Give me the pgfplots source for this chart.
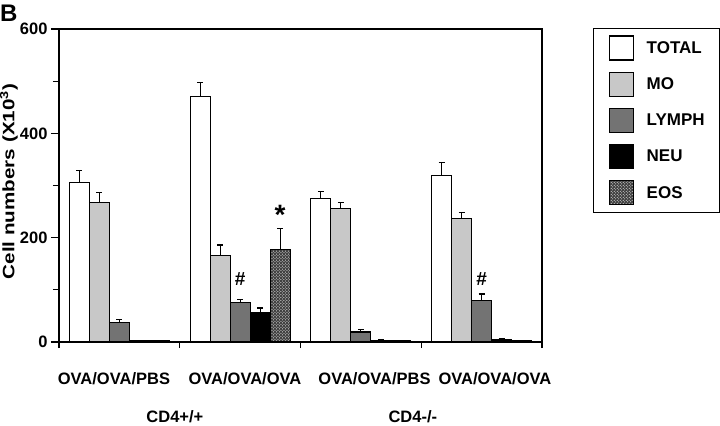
\documentclass[border=0pt]{standalone}
\usepackage{pgfplots}
\pgfplotsset{compat=1.18}
\usepackage{pgfplotstable}
\usetikzlibrary{patterns}
\usepackage{fontspec}
\setmainfont{Liberation Sans}
\definecolor{mogray}{RGB}{200,200,200}
\definecolor{lygray}{RGB}{115,115,115}
\newcommand{\lfont}{\bfseries\fontsize{16.5bp}{19bp}\selectfont}

\pgfplotstableread{
x y e
0 305 23
1 470 27
2 275 13
3 319 25
}\total
\pgfplotstableread{
x y e
0 268 18
1 166 20
2 256 11
3 237 12
}\mo
\pgfplotstableread{
x y e
0 37 6
1 76 6
2 19 5
3 79 13
}\lymph
\pgfplotstableread{
x y e
0 3 0
1 57 8
2 3 2
3 5 1
}\neu
\pgfplotstableread{
x y e
0 2 0
1 178 39
2 2 0
3 3 0
}\eos

\begin{document}
\begin{tikzpicture}
\useasboundingbox (0,0) rectangle (720bp,426bp);
\node[anchor=base west, inner sep=0, font=\bfseries\fontsize{24bp}{28bp}\selectfont] at (0bp,404bp) {B};
\begin{axis}[
  at={(59bp,84bp)}, anchor=south west,
  scale only axis, width=483bp, height=313bp,
  clip=false,
  ybar=0pt, bar width=20bp,
  xmin=-0.5, xmax=3.5, ymin=0, ymax=600,
  axis line style={line width=1.5bp},
  xtick={-0.045,1.04,2.113,3.11},
  xticklabels={OVA/OVA/PBS,OVA/OVA/OVA,OVA/OVA/PBS,OVA/OVA/OVA},
  major x tick style={draw=none},
  minor xtick={-0.5,0.5,1.5,2.5,3.5},
  ytick={0,200,400,600},
  minor ytick={100,300,500},
  tick align=outside,
  tick pos=left,
  major tick length=8bp,
  minor tick length=6bp,
  every tick/.style={line width=1.3bp, black},
  xticklabel style={font=\lfont, yshift=-19bp},
  yticklabel style={font=\lfont},
  /pgf/number format/assume math mode=true,
  ylabel={Cell numbers (X10\textsuperscript{3})},
  every axis y label/.style={at={(axis description cs:0,0.5)}, xshift=-50bp, yshift=4bp, rotate=90, xscale=1.25, anchor=center, font=\lfont},
  legend style={at={(axis description cs:1,1)}, anchor=north west, xshift=51bp, yshift=1bp,
    draw=black, line width=1bp, inner xsep=15bp, inner ysep=7bp, row sep=11bp,
    font=\bfseries\fontsize{17bp}{19bp}\selectfont, column sep=0bp,
    nodes={inner sep=0bp, anchor=west}},
  error bars/y dir=plus, error bars/y explicit,
  error bars/error bar style={line width=1.2bp, black},
  error bars/error mark options={rotate=90, line width=1.2bp, black, mark size=3bp},
  mylegend/.style={legend image code/.code={\draw[##1, line width=1.2bp] (0bp,-12bp) rectangle (24bp,12bp); \path (37bp,0bp);}},
]
\addplot[fill=white, draw=black, line width=1.2bp, mylegend] table[x=x,y=y,y error=e]{\total};
\addplot[fill=mogray, draw=black, line width=1.2bp, mylegend] table[x=x,y=y,y error=e]{\mo};
\addplot[fill=lygray, draw=black, line width=1.2bp, mylegend] table[x=x,y=y,y error=e]{\lymph};
\addplot[fill=black, draw=black, line width=1.2bp, mylegend] table[x=x,y=y,y error=e]{\neu};
\addplot[fill=black!75, postaction={pattern=crosshatch dots, pattern color=white}, draw=black, line width=1.2bp, mylegend] table[x=x,y=y,y error=e]{\eos};
\legend{TOTAL,MO,LYMPH,NEU,EOS}
\node[font=\bfseries\fontsize{19bp}{22bp}\selectfont, anchor=base] at (axis cs:1,109) {\#};
\node[font=\bfseries\fontsize{19bp}{22bp}\selectfont, anchor=base] at (axis cs:3,109) {\#};
\node[font=\bfseries\fontsize{28bp}{30bp}\selectfont, anchor=center] at (axis cs:1.331,243) {*};
\node[font=\lfont, anchor=base] at (axis cs:0.46,-154) {CD4+/+};
\node[font=\lfont, anchor=base] at (axis cs:2.43,-154) {CD4-/-};
\end{axis}
\end{tikzpicture}
\end{document}
